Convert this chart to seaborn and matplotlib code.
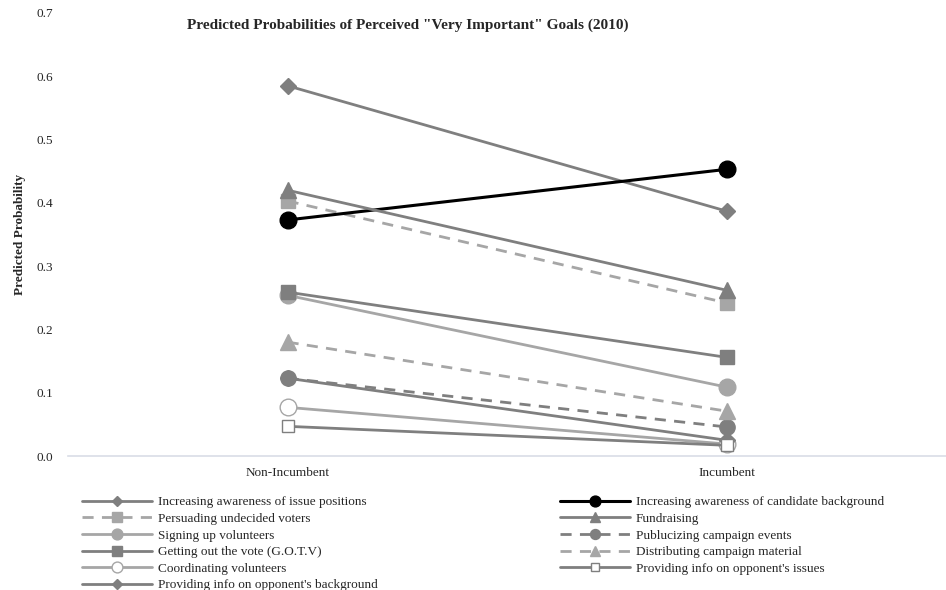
import pandas as pd
import numpy as np
import matplotlib
matplotlib.use('Agg')
import matplotlib.pyplot as plt
import seaborn as sns

status = ['Non-Incumbent', 'Incumbent']

goals = ["Increasing awareness of issue positions",
         "Persuading undecided voters",
         "Signing up volunteers",
         "Getting out the vote (G.O.T.V)",
         "Coordinating volunteers",
         "Providing info on opponent's background",
         "Increasing awareness of candidate background",
         "Fundraising",
         "Publucizing campaign events",
         "Distributing campaign material",
         "Providing info on opponent's issues"]

non_incumbent = [0.585, 0.403, 0.254, 0.259, 0.077, 0.123, 0.373, 0.420, 0.123, 0.180, 0.047]
incumbent = [0.387, 0.242, 0.109, 0.156, 0.019, 0.025, 0.453, 0.262, 0.046, 0.071, 0.017]

dark = '#7f7f7f'
light = '#a6a6a6'
colors = [dark, light, light, dark, light, dark, 'black', dark, dark, light, dark]
markers = ['D', 's', 'o', 's', 'o', 'D', 'o', '^', 'o', '^', 's']
dashed = [False, True, False, False, False, False, False, False, True, True, False]
hollow = [False, False, False, False, True, False, False, False, False, False, True]
msizes = [8, 10, 12, 10, 12, 8, 12, 11, 11, 11, 9]

rows = []
for g, a, b in zip(goals, non_incumbent, incumbent):
    rows.append({'goal': g, 'status': status[0], 'prob': a})
    rows.append({'goal': g, 'status': status[1], 'prob': b})
df = pd.DataFrame(rows)

sns.set_style('white')
plt.rcParams['font.family'] = ['Liberation Serif', 'DejaVu Serif']

fig = plt.figure(figsize=(9.46, 5.9), dpi=100)
ax = fig.add_axes([0.072, 0.227, 0.928, 0.751])

handles = []
for i, g in enumerate(goals):
    sub = df[df['goal'] == g]
    ls = (0, (4, 3)) if dashed[i] else '-'
    lw = 2.2 if colors[i] == 'black' else 2.0
    sns.lineplot(data=sub, x='status', y='prob', ax=ax, color=colors[i],
                 linestyle=ls, linewidth=lw, sort=False, legend=False,
                 marker=markers[i], markersize=msizes[i],
                 markerfacecolor='white' if hollow[i] else colors[i],
                 markeredgecolor=colors[i], markeredgewidth=1.0)
    h, = ax.plot([], [], color=colors[i], linestyle=ls, linewidth=lw,
                 marker=markers[i], markersize=msizes[i] * 0.65,
                 markerfacecolor='white' if hollow[i] else colors[i],
                 markeredgecolor=colors[i], label=g)
    handles.append(h)

ax.set_xlim(-0.5, 1.5)
ax.set_ylim(0, 0.7)
ax.set_yticks(np.arange(0, 0.71, 0.1))
ax.set_yticklabels(['%.1f' % v for v in np.arange(0, 0.71, 0.1)], fontsize=9.5)
ax.tick_params(axis='x', labelsize=9.5, length=0, pad=8)
ax.tick_params(axis='y', length=0, pad=11)
ax.set_xlabel('')
ax.set_ylabel('Predicted Probability', fontsize=9.5, fontweight='bold', labelpad=7)
for s in ['top', 'right', 'left']:
    ax.spines[s].set_visible(False)
ax.spines['bottom'].set_color('#d9dde6')
ax.spines['bottom'].set_linewidth(1.2)

fig.text(0.431, 0.957, 'Predicted Probabilities of Perceived "Very Important" Goals (2010)',
         ha='center', va='center', fontsize=11, fontweight='bold')

fig.legend(handles=handles, ncol=2, loc='upper left', bbox_to_anchor=(0.0867, 0.159),
           frameon=False, fontsize=9.5, handlelength=5.3, labelspacing=0.33,
           columnspacing=13.8, handletextpad=0.45, borderaxespad=0, borderpad=0)

fig.savefig('out.png', dpi=100)
